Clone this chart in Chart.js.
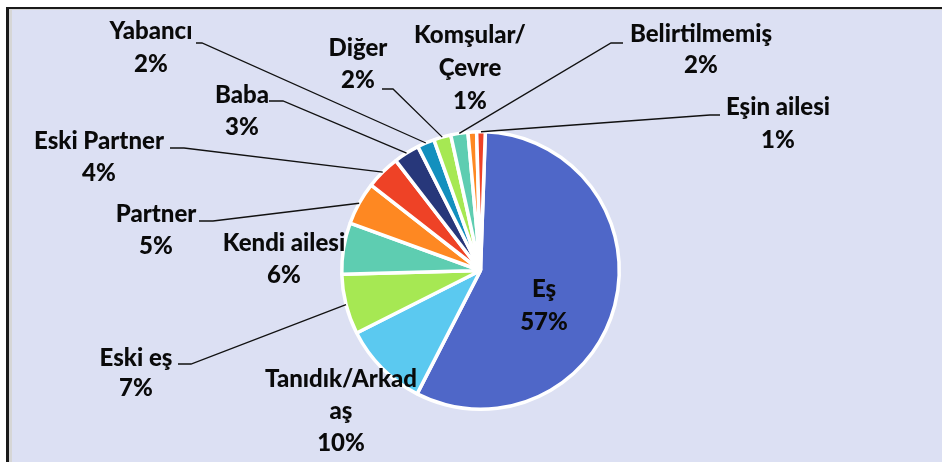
<!DOCTYPE html>
<html>
<head>
<meta charset="utf-8">
<script src="https://cdn.jsdelivr.net/npm/chart.js@4/dist/chart.umd.min.js"></script>
<style>
    html, body { margin: 0; padding: 0; background: #fff; }
    #container-canvas { width: 942px; height: 462px; }
</style>
</head>
<body>
<div id="container-canvas">
    <canvas id="myChart" width="942" height="462"></canvas>
</div>
<script>
// data, clockwise from the top
const categories = ['Eş', 'Tanıdık/Arkadaş', 'Eski eş', 'Kendi ailesi', 'Partner', 'Eski Partner',
    'Baba', 'Yabancı', 'Diğer', 'Belirtilmemiş', 'Komşular/Çevre', 'Eşin ailesi']
const percents = [57, 10, 7, 6, 5, 4, 3, 2, 2, 2, 1, 1]
// category names split the way the labels wrap in the picture
const labelText = [['Eş'], ['Tanıdık/Arkad', 'aş'], ['Eski eş'], ['Kendi ailesi'], ['Partner'], ['Eski Partner'],
    ['Baba'], ['Yabancı'], ['Diğer'], ['Belirtilmemiş'], ['Komşular/', 'Çevre'], ['Eşin ailesi']]

const sliceColors = ['#4f67c8', '#5bc9f0', '#a6e853', '#5ecdb1', '#fe8822', '#ee4226',
    '#27377a', '#1390be', '#a6e853', '#5ecdb1', '#fe8822', '#ee4226']

// label placement: centre x, first baseline, line step, leader stub [far x, near x, y]
const labelPlace = [
    { x: 544, y: 297, step: 33, stub: null },
    { x: 341, y: 387, step: 32, stub: null },
    { x: 136, y: 366, step: 30, stub: [178, 191, 364] },
    { x: 284, y: 251, step: 32, stub: null },
    { x: 156, y: 222, step: 32, stub: [199, 213, 221] },
    { x: 99, y: 149, step: 32, stub: [170, 184, 148] },
    { x: 242, y: 103, step: 32, stub: [269, 283, 101] },
    { x: 151, y: 39, step: 33, stub: [196, 202, 43] },
    { x: 358, y: 56, step: 32, stub: [382, 393, 89] },
    { x: 701, y: 42, step: 31, stub: [623, 611, 43] },
    { x: 470, y: 43, step: 33, stub: null },
    { x: 778, y: 115, step: 33, stub: [720, 710, 115] }
]

const framePlugin = {
    id: 'frame',
    beforeDraw(chart) {
        const c = chart.ctx
        c.save()
        c.fillStyle = '#ffffff'
        c.fillRect(0, 0, 942, 462)
        c.fillStyle = '#1a1a1a'
        c.fillRect(6, 7, 936, 2)
        c.fillRect(6, 7, 3, 455)
        c.fillStyle = '#d6d6d6'
        c.fillRect(9, 9, 3, 453)
        c.fillRect(9, 9, 933, 1)
        c.fillStyle = '#dce0f3'
        c.fillRect(12, 10, 930, 452)
        c.restore()
    }
}

const labelPlugin = {
    id: 'pieLabels',
    afterDatasetsDraw(chart) {
        const c = chart.ctx
        const arcs = chart.getDatasetMeta(0).data
        c.save()
        arcs.forEach((arc, i) => {
            const p = arc.getProps(['x', 'y', 'startAngle', 'endAngle', 'outerRadius'], true)
            const place = labelPlace[i]
            if (place.stub) {
                const mid = (p.startAngle + p.endAngle) / 2
                const ex = p.x + Math.cos(mid) * p.outerRadius
                const ey = p.y + Math.sin(mid) * p.outerRadius
                c.strokeStyle = '#111'
                c.lineWidth = 1.3
                c.beginPath()
                c.moveTo(place.stub[0], place.stub[2])
                c.lineTo(place.stub[1], place.stub[2])
                c.lineTo(ex, ey)
                c.stroke()
            }
            const lines = labelText[i].concat([percents[i] + '%'])
            c.fillStyle = '#0a0a0a'
            c.font = '900 24px Lato'
            c.textAlign = 'center'
            c.textBaseline = 'alphabetic'
            lines.forEach((t, k) => {
                c.fillText(t, place.x, place.y + k * place.step)
            })
        })
        c.restore()
    }
}

const ctx = document.getElementById('myChart')
new Chart(ctx, {
    type: 'pie',
    data: {
        labels: categories,
        datasets: [
            {
                data: percents,
                backgroundColor: sliceColors,
                borderColor: '#ffffff',
                borderWidth: 3.5
            }
        ]
    },
    options: {
        responsive: false,
        animation: false,
        rotation: 2,
        layout: {
            padding: { left: 340, right: 321, top: 130, bottom: 51 }
        },
        plugins: {
            legend: { display: false },
            tooltip: { enabled: false }
        }
    },
    plugins: [framePlugin, labelPlugin]
})
</script>
</body>
</html>
